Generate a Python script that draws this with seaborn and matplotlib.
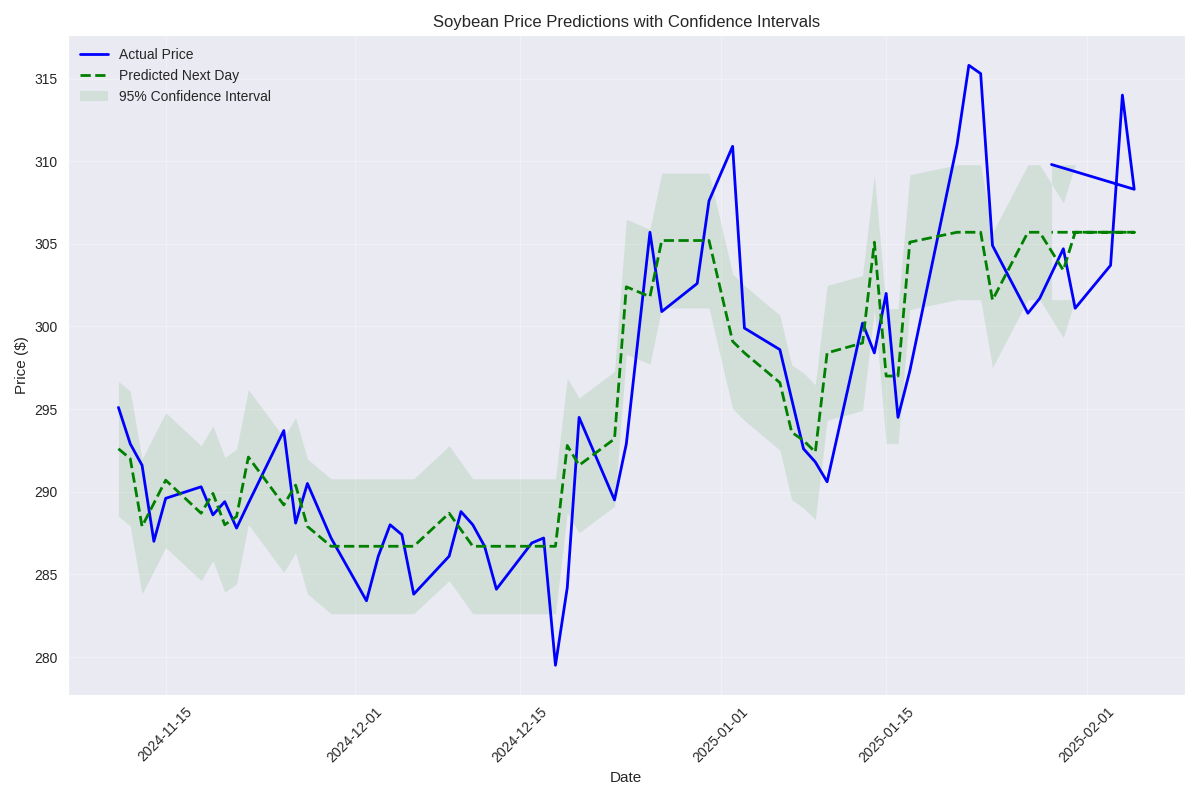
import pandas as pd
import seaborn as sns
import matplotlib.pyplot as plt

# --- DATA ---
# Note: the last row (2025-01-29) comes after 2025-02-05 in the data order.
dates = [
    "2024-11-11", "2024-11-12", "2024-11-13", "2024-11-14", "2024-11-15",
    "2024-11-18", "2024-11-19", "2024-11-20", "2024-11-21", "2024-11-22",
    "2024-11-25", "2024-11-26", "2024-11-27", "2024-11-29",
    "2024-12-02", "2024-12-03", "2024-12-04", "2024-12-05", "2024-12-06",
    "2024-12-09", "2024-12-10", "2024-12-11", "2024-12-12", "2024-12-13",
    "2024-12-16", "2024-12-17", "2024-12-18", "2024-12-19", "2024-12-20",
    "2024-12-23", "2024-12-24", "2024-12-26", "2024-12-27",
    "2024-12-30", "2024-12-31", "2025-01-02", "2025-01-03",
    "2025-01-06", "2025-01-07", "2025-01-08", "2025-01-09", "2025-01-10",
    "2025-01-13", "2025-01-14", "2025-01-15", "2025-01-16", "2025-01-17",
    "2025-01-21", "2025-01-22", "2025-01-23", "2025-01-24",
    "2025-01-27", "2025-01-28", "2025-01-30", "2025-01-31",
    "2025-02-03", "2025-02-04", "2025-02-05", "2025-01-29",
]

actual_price = [
    295.1, 292.9, 291.6, 287.0, 289.6,
    290.3, 288.6, 289.4, 287.8, 289.3,
    293.7, 288.1, 290.5, 287.2,
    283.4, 286.1, 288.0, 287.4, 283.8,
    286.1, 288.8, 288.0, 286.7, 284.1,
    286.9, 287.2, 279.5, 284.2, 294.5,
    289.5, 292.9, 305.7, 300.9,
    302.6, 307.6, 310.9, 299.9,
    298.6, 295.6, 292.6, 291.8, 290.6,
    300.2, 298.4, 302.0, 294.5, 297.3,
    311.0, 315.8, 315.3, 304.9,
    300.8, 301.7, 304.7, 301.1,
    303.7, 314.0, 308.3, 309.8,
]

predicted_price = [
    292.6, 292.0, 287.9, 289.3, 290.7,
    288.7, 289.9, 288.0, 288.5, 292.1,
    289.2, 290.4, 287.9, 286.7,
    286.7, 286.7, 286.7, 286.7, 286.7,
    288.7, 287.7, 286.7, 286.7, 286.7,
    286.7, 286.7, 286.7, 292.8, 291.6,
    293.2, 302.4, 301.8, 305.2,
    305.2, 305.2, 299.1, 298.4,
    296.6, 293.6, 293.1, 292.4, 298.4,
    299.0, 305.1, 297.0, 297.0, 305.1,
    305.7, 305.7, 305.7, 301.6,
    305.7, 305.7, 303.4, 305.7,
    305.7, 305.7, 305.7, 305.7,
]

# half width of the 95% band
ci_margin = 4.08

df = pd.DataFrame({
    "Date": pd.to_datetime(dates),
    "Actual": actual_price,
    "Predicted": predicted_price,
})
df["Lower"] = df["Predicted"] - ci_margin
df["Upper"] = df["Predicted"] + ci_margin

# --- PLOT ---
sns.set_style("darkgrid")
plt.rcParams["font.family"] = ["Liberation Sans", "DejaVu Sans"]

fig, ax = plt.subplots(figsize=(12, 8), dpi=100)

sns.lineplot(data=df, x="Date", y="Actual", ax=ax, color="blue",
             linewidth=2, label="Actual Price", sort=False, estimator=None)
sns.lineplot(data=df, x="Date", y="Predicted", ax=ax, color="green",
             linewidth=2, linestyle="--", label="Predicted Next Day",
             sort=False, estimator=None)
ax.fill_between(df["Date"], df["Lower"], df["Upper"], color="green",
                alpha=0.1, linewidth=0, label="95% Confidence Interval")

ax.set_title("Soybean Price Predictions with Confidence Intervals", fontsize=12)
ax.set_xlabel("Date", fontsize=11)
ax.set_ylabel("Price ($)", fontsize=11)
ax.tick_params(labelsize=10)
ax.grid(True, alpha=0.3)
plt.xticks(rotation=45)
ax.legend(loc="upper left", frameon=False, fontsize=10)

plt.tight_layout()
plt.savefig("out.png", dpi=100)
